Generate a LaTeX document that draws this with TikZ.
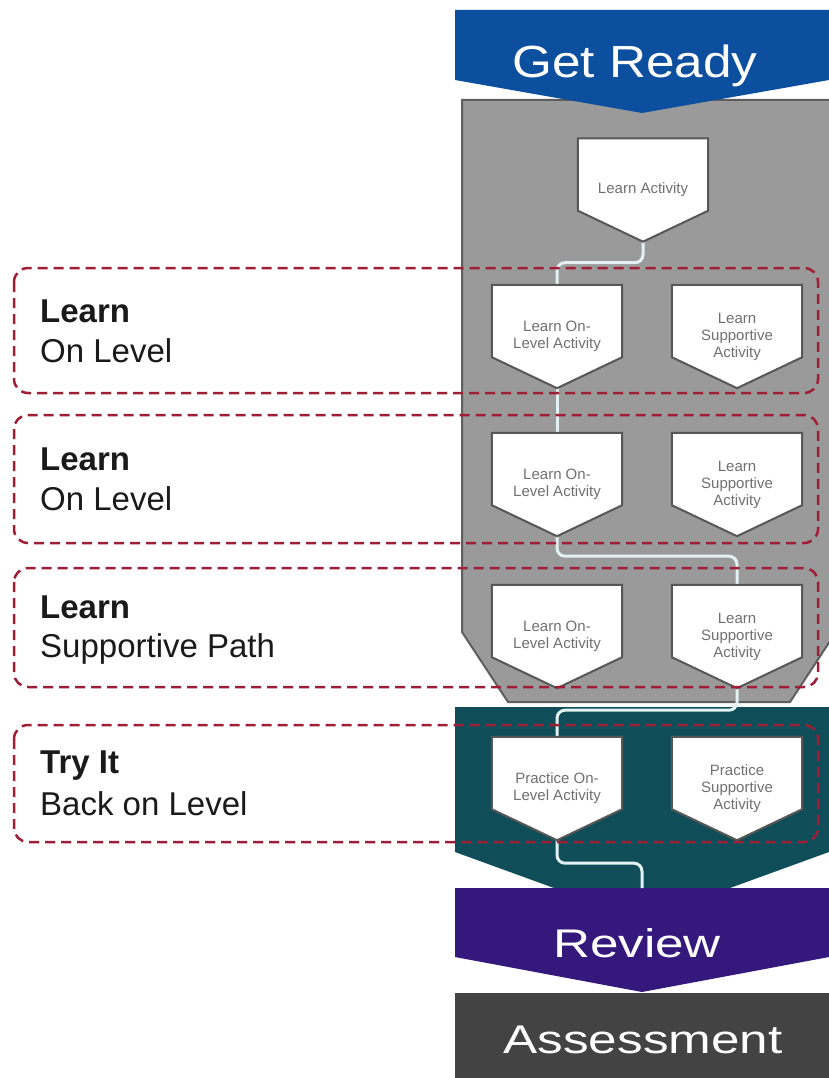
\documentclass[tikz,border=0pt]{standalone}
\usepackage{fontspec}
\setmainfont{Liberation Sans}
\usetikzlibrary{calc}

\definecolor{readyblue}{HTML}{0C4F9E}
\definecolor{panelgray}{HTML}{9A9A9A}
\definecolor{paneledge}{HTML}{5E5E5E}
\definecolor{tryteal}{HTML}{0F4E59}
\definecolor{reviewpurple}{HTML}{35187B}
\definecolor{assessgray}{HTML}{434343}
\definecolor{boxedge}{HTML}{575757}
\definecolor{acttext}{HTML}{707070}
\definecolor{pathline}{HTML}{E4F1F2}
\definecolor{groupred}{HTML}{9E1F35}
\definecolor{labeltext}{HTML}{1A1A1A}

\pgfdeclarelayer{back}
\pgfdeclarelayer{shapes}
\pgfdeclarelayer{front}
\pgfsetlayers{back,shapes,main,front}

\begin{document}
\begin{tikzpicture}[x=1pt,y=-1pt,
  act/.style={minimum width=130pt, minimum height=103pt, inner sep=0pt,
    align=center, text=acttext, font=\fontsize{15}{17}\selectfont},
  pent/.style={fill=white, draw=boxedge, line width=2pt, line join=miter},
  conn/.style={draw=pathline, line width=3pt, rounded corners=8pt},
  group/.style={draw=groupred, line width=2.5pt, dash pattern=on 10pt off 6pt,
    rounded corners=14pt},
  bannertext/.style={text=white, inner sep=0pt, anchor=base},
  lbl/.style={text=labeltext, inner sep=0pt, anchor=base west,
    font=\fontsize{33}{40}\selectfont},
  lblbold/.style={lbl, font=\fontsize{33}{40}\selectfont\bfseries}]

\useasboundingbox (0,0) rectangle (828,1078);

% ---- stage panels and banners ----
\begin{pgfonlayer}{back}
  \fill[white] (0,0) rectangle (828,1078);
  % grey "learn" panel with tapered foot
  \filldraw[fill=panelgray, draw=paneledge, line width=2pt]
    (462,100) -- (462,632) -- (508,702) -- (790,702) -- (836,632) -- (836,100) -- cycle;
  % teal "try it" panel, arrow-shaped foot
  \fill[tryteal] (455,707) -- (455,852) -- (642,920) -- (829,852) -- (829,707) -- cycle;
  % Get Ready banner
  \fill[readyblue] (455,10) -- (829,10) -- (829,80) -- (642,113) -- (455,80) -- cycle;
  % Review banner
  \fill[reviewpurple] (455,888) -- (829,888) -- (829,957) -- (642,992) -- (455,957) -- cycle;
  % Assessment block
  \fill[assessgray] (455,993) rectangle (829,1078);
\end{pgfonlayer}

\node[bannertext, font=\fontsize{45}{50}\selectfont] (ready) at (635,78)
  {\scalebox{1.14}[1]{Get Ready}};
\node[bannertext, font=\fontsize{40}{46}\selectfont] (review) at (637,957)
  {\scalebox{1.28}[1]{Review}};
\node[bannertext, font=\fontsize{40}{46}\selectfont] (assess) at (643,1053)
  {\scalebox{1.28}[1]{Assessment}};
\coordinate (revtop) at (642,888);

% ---- activity boxes ----
\node[act] (la) at (643,190)   {Learn Activity};
\node[act] (a1) at (557,336.5) {Learn On-\\Level Activity};
\node[act] (b1) at (737,336.5) {Learn\\Supportive\\Activity};
\node[act] (a2) at (557,484.5) {Learn On-\\Level Activity};
\node[act] (b2) at (737,484.5) {Learn\\Supportive\\Activity};
\node[act] (a3) at (557,636.5) {Learn On-\\Level Activity};
\node[act] (b3) at (737,636.5) {Learn\\Supportive\\Activity};
\node[act] (a4) at (557,788.5) {Practice On-\\Level Activity};
\node[act] (b4) at (737,788.5) {Practice\\Supportive\\Activity};

\begin{pgfonlayer}{shapes}
  % learner's route through the activities
  \draw[conn] (la.south) -- ++(0,21) -| (a1.north);
  \draw[conn] (a1.south) -- (a2.north);
  \draw[conn] (a2.south) -- ++(0,20) -| (b3.north);
  \draw[conn] (b3.south) -- ++(0,22) -| (a4.north);
  \draw[conn] (a4.south) -- ++(0,23) -| (revtop);
  % home-plate shaped activity cards
  \foreach \n in {la,a1,b1,a2,b2,a3,b3,a4,b4}
    \path[pent] (\n.north west) -- (\n.north east) -- ([yshift=31pt]\n.south east)
      -- (\n.south) -- ([yshift=31pt]\n.south west) -- cycle;
\end{pgfonlayer}

% ---- row labels ----
\node[lblbold] (l1a) at (40,322) {Learn};
\node[lbl]     (l1b) at (40,362) {On Level};
\node[lblbold] (l2a) at (40,470) {Learn};
\node[lbl]     (l2b) at (40,510) {On Level};
\node[lblbold] (l3a) at (40,618) {Learn};
\node[lbl]     (l3b) at (40,657) {Supportive Path};
\node[lblbold] (l4a) at (40,773) {Try It};
\node[lbl]     (l4b) at (40,815) {Back on Level};

% ---- dashed row groups ----
\begin{pgfonlayer}{front}
  \draw[group] (14,268) rectangle (818,393);
  \draw[group] (14,415) rectangle (818,543);
  \draw[group] (14,568) rectangle (818,687);
  \draw[group] (14,725) rectangle (818,842);
\end{pgfonlayer}

\end{tikzpicture}
\end{document}
